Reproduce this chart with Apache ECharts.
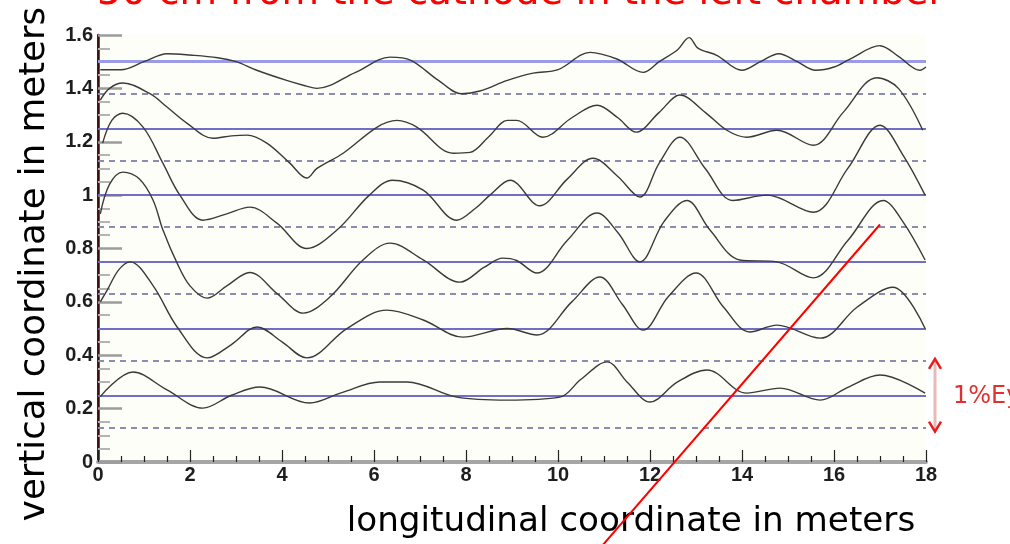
<!DOCTYPE html>
<html>
<head>
<meta charset="utf-8">
<script src="https://cdn.jsdelivr.net/npm/echarts@6.0.0/dist/echarts.min.js"></script>
<style>
html, body { margin: 0; padding: 0; background: #ffffff; }
#chart { width: 1010px; height: 544px; }
</style>
</head>
<body>
<div id="chart"></div>
<script>
// Six field-map traces, each wandering around its own reference level (metres)
const wireA = [[0.05,1.47],[0.5,1.47],[1.0,1.50],[1.5,1.53],[2.0,1.525],[2.6,1.515],[3.0,1.50],[3.45,1.468],[4.1,1.43],[4.5,1.41],[4.76,1.40],[5.6,1.46],[6.35,1.517],[6.8,1.505],[7.4,1.43],[7.9,1.38],[8.3,1.39],[8.9,1.43],[9.46,1.457],[10.0,1.47],[10.7,1.535],[11.28,1.51],[11.85,1.46],[12.2,1.50],[12.6,1.545],[12.85,1.59],[13.05,1.55],[13.45,1.524],[14.0,1.468],[14.4,1.50],[14.8,1.53],[15.2,1.50],[15.6,1.468],[16.0,1.48],[16.35,1.51],[17.0,1.56],[17.4,1.52],[17.87,1.468],[18.0,1.48]];
const wireB = [[0.05,1.356],[0.25,1.40],[0.54,1.42],[1.13,1.38],[1.5,1.33],[1.93,1.27],[2.5,1.213],[2.9,1.222],[3.24,1.225],[3.67,1.195],[4.17,1.12],[4.54,1.064],[4.76,1.10],[5.33,1.157],[6.07,1.255],[6.5,1.28],[6.93,1.255],[7.72,1.157],[8.09,1.16],[8.5,1.22],[8.9,1.28],[9.1,1.28],[9.67,1.217],[10.3,1.29],[10.85,1.337],[11.3,1.29],[11.7,1.236],[12.2,1.31],[12.65,1.375],[13.2,1.31],[13.67,1.243],[14.1,1.217],[14.76,1.243],[15.55,1.187],[16.2,1.31],[16.93,1.44],[17.4,1.40],[17.93,1.243]];
const wireC = [[0.1,1.195],[0.3,1.28],[0.54,1.307],[0.98,1.255],[1.41,1.12],[1.78,1.0],[2.28,0.906],[2.8,0.93],[3.3,0.955],[3.89,0.895],[4.54,0.80],[5.2,0.87],[5.9,1.0],[6.4,1.056],[7.07,1.019],[7.8,0.906],[8.2,0.95],[8.52,1.0],[8.96,1.056],[9.6,0.96],[10.2,1.06],[10.76,1.138],[11.3,1.07],[11.78,0.993],[12.2,1.12],[12.65,1.217],[13.2,1.10],[13.8,0.98],[14.54,1.0],[15.55,0.936],[16.3,1.10],[17.0,1.262],[17.5,1.15],[17.98,1.0]];
const wireD = [[0.05,0.93],[0.25,1.04],[0.54,1.086],[0.9,1.06],[1.2,0.98],[1.41,0.87],[1.72,0.745],[2.0,0.66],[2.37,0.614],[2.8,0.66],[3.3,0.71],[3.9,0.63],[4.46,0.558],[5.04,0.618],[5.76,0.757],[6.35,0.82],[7.07,0.757],[7.87,0.674],[8.4,0.73],[8.8,0.764],[9.1,0.755],[9.54,0.708],[10.2,0.83],[10.85,0.933],[11.3,0.86],[11.78,0.75],[12.3,0.90],[12.8,0.98],[13.3,0.87],[13.95,0.757],[14.76,0.75],[15.55,0.69],[16.3,0.83],[17.07,0.98],[17.5,0.90],[17.98,0.757]];
const wireE = [[0.05,0.60],[0.2,0.644],[0.45,0.72],[0.7,0.75],[1.2,0.66],[1.72,0.506],[2.37,0.39],[2.9,0.44],[3.46,0.506],[4.0,0.45],[4.54,0.39],[5.41,0.50],[6.28,0.569],[7.07,0.532],[7.93,0.468],[8.9,0.50],[9.54,0.476],[10.3,0.60],[10.91,0.693],[11.4,0.59],[11.85,0.494],[12.4,0.62],[13.0,0.708],[13.6,0.58],[14.17,0.487],[14.76,0.513],[15.7,0.464],[16.5,0.58],[17.28,0.655],[17.98,0.5]];
const wireF = [[0.05,0.245],[0.76,0.337],[1.5,0.27],[2.28,0.202],[2.9,0.25],[3.52,0.281],[4.6,0.221],[5.3,0.26],[6.13,0.30],[6.72,0.30],[7.8,0.243],[8.9,0.232],[10.04,0.243],[10.5,0.31],[11.07,0.375],[11.5,0.30],[12.0,0.225],[12.6,0.30],[13.24,0.345],[14.1,0.258],[14.83,0.277],[15.7,0.232],[16.3,0.28],[17.0,0.326],[17.98,0.258]];

// Reference levels: solid = nominal wire heights, dashed = half-way levels
const solidLevels = [1.5, 1.25, 1.0, 0.75, 0.5, 0.25];
const dashedLevels = [1.375, 1.125, 0.875, 0.625, 0.375, 0.125];

// Annotations
const spanLevels = [0.125, 0.375];            // vertical span marked "1%Ey"
const pointerLine = [[17.0, 0.89], [10.98, -0.31]];
const titleText = '50 cm from the cathode in the left chamber';
const xTitle = 'longitudinal coordinate in meters';
const yTitle = 'vertical coordinate in meters';
const spanText = '1%Ey';

const chart = echarts.init(document.getElementById('chart'), null, { renderer: 'canvas' });

const wires = [wireA, wireB, wireC, wireD, wireE, wireF];
const traceSeries = wires.map((w, i) => ({
  name: 'wire' + i,
  type: 'line',
  data: w,
  smooth: 0.35,
  showSymbol: false,
  z: 5,
  lineStyle: { color: '#3a3a3a', width: 1.4 },
  silent: true
}));

const levelSeries = [{
  type: 'line', data: [], silent: true, z: 2,
  markLine: {
    silent: true, symbol: 'none', label: { show: false },
    animation: false,
    data: solidLevels.map((v, i) => ({
      yAxis: v,
      lineStyle: { type: 'solid', color: i === 0 ? '#9c9ce6' : '#6f6fc8', width: i === 0 ? 3 : 2 }
    }))
  }
}, {
  type: 'line', data: [], silent: true, z: 2,
  markLine: {
    silent: true, symbol: 'none', label: { show: false },
    animation: false,
    data: dashedLevels.map(v => ({
      yAxis: v,
      lineStyle: { type: [6, 5], color: '#8c8cae', width: 2 }
    }))
  }
}];

chart.setOption({
  animation: false,
  backgroundColor: '#ffffff',
  grid: { left: 98, right: 84, top: 35, bottom: 82, show: true, backgroundColor: '#fefef8', borderWidth: 0 },
  xAxis: [{
    type: 'value', min: 0, max: 18, interval: 2,
    axisLine: { show: true, lineStyle: { color: '#3a1818', width: 2 } },
    axisTick: { show: true, inside: true, length: 12, lineStyle: { color: '#222', width: 1.2 } },
    minorTick: { show: true, splitNumber: 4, length: 6, lineStyle: { color: '#222', width: 1.2 } },
    axisLabel: { fontFamily: 'Liberation Sans', fontWeight: 'bold', fontSize: 20, color: '#1e1e1e', margin: 3 },
    splitLine: { show: false }
  }, {
    type: 'value', min: 0, max: 18, position: 'top',
    axisLine: { show: true, lineStyle: { color: '#a6a6a6', width: 4 } },
    axisTick: { show: false }, axisLabel: { show: false }, splitLine: { show: false }
  }],
  yAxis: [{
    type: 'value', min: 0, max: 1.6, interval: 0.2,
    axisLine: { show: true, lineStyle: { color: '#111', width: 1.5 } },
    axisTick: { show: true, inside: true, length: 24, lineStyle: { color: '#9c9c9c', width: 2.5 } },
    minorTick: { show: true, splitNumber: 4, length: 12, lineStyle: { color: '#b4b4b4', width: 2 } },
    axisLabel: { fontFamily: 'Liberation Sans', fontWeight: 'bold', fontSize: 20, color: '#1e1e1e', margin: 5 },
    splitLine: { show: false }
  }, {
    type: 'value', min: 0, max: 1.6, position: 'right',
    axisLine: { show: true, lineStyle: { color: '#3a1010', width: 2.5 } },
    axisTick: { show: false }, axisLabel: { show: false }, splitLine: { show: false }
  }],
  series: levelSeries.concat(traceSeries)
});

// Size a text so that it spans a given pixel width
const measureCtx = document.createElement('canvas').getContext('2d');
function fitSize(text, width, family, weight) {
  measureCtx.font = (weight || 'normal') + ' 100px ' + family;
  return 100 * width / measureCtx.measureText(text).width;
}

const fam = '"DejaVu Sans"';
const titleSize = fitSize(titleText, 848, fam);
const xTitleSize = fitSize(xTitle, 568, fam);
const yTitleSize = fitSize(yTitle, 515, fam);

const toPx = p => chart.convertToPixel({ xAxisIndex: 0, yAxisIndex: 0 }, p);
const p0 = toPx(pointerLine[0]);
const p1 = toPx(pointerLine[1]);
const yLow = toPx([18, spanLevels[0]])[1] + 3;
const yHigh = toPx([18, spanLevels[1]])[1] - 3;
const ax = toPx([18, 0])[0] + 9;

chart.setOption({
  graphic: [
    {
      type: 'text', x: 97, y: 6 - 0.3 * titleSize, z: 20,
      style: { text: titleText, font: titleSize.toFixed(1) + 'px ' + fam, fill: '#ff0000', align: 'left', verticalAlign: 'middle' }
    },
    {
      type: 'text', x: 631, y: 532 - 0.3 * xTitleSize, z: 20,
      style: { text: xTitle, font: xTitleSize.toFixed(1) + 'px ' + fam, fill: '#000', align: 'center', verticalAlign: 'middle' }
    },
    {
      type: 'text', x: 45 - 0.3 * yTitleSize, y: 264, rotation: Math.PI / 2, z: 20,
      style: { text: yTitle, font: yTitleSize.toFixed(1) + 'px ' + fam, fill: '#000', align: 'center', verticalAlign: 'middle' }
    },
    {
      type: 'line', z: 30,
      shape: { x1: p0[0], y1: p0[1], x2: p1[0], y2: p1[1] },
      style: { stroke: '#ff0000', lineWidth: 2 }
    },
    {
      type: 'line', z: 30,
      shape: { x1: ax, y1: yHigh + 2, x2: ax, y2: yLow - 2 },
      style: { stroke: '#e7b9b9', lineWidth: 3 }
    },
    {
      type: 'polyline', z: 31,
      shape: { points: [[ax - 6, yHigh + 10], [ax, yHigh], [ax + 6, yHigh + 10]] },
      style: { stroke: '#e81c1c', lineWidth: 2.5, fill: 'none' }
    },
    {
      type: 'polyline', z: 31,
      shape: { points: [[ax - 6, yLow - 10], [ax, yLow], [ax + 6, yLow - 10]] },
      style: { stroke: '#e81c1c', lineWidth: 2.5, fill: 'none' }
    },
    {
      type: 'text', x: 953, y: (yHigh + yLow) / 2 + 1, z: 30,
      style: { text: spanText, font: '24px ' + fam, fill: '#e03030', align: 'left', verticalAlign: 'middle' }
    }
  ]
});
</script>
</body>
</html>
